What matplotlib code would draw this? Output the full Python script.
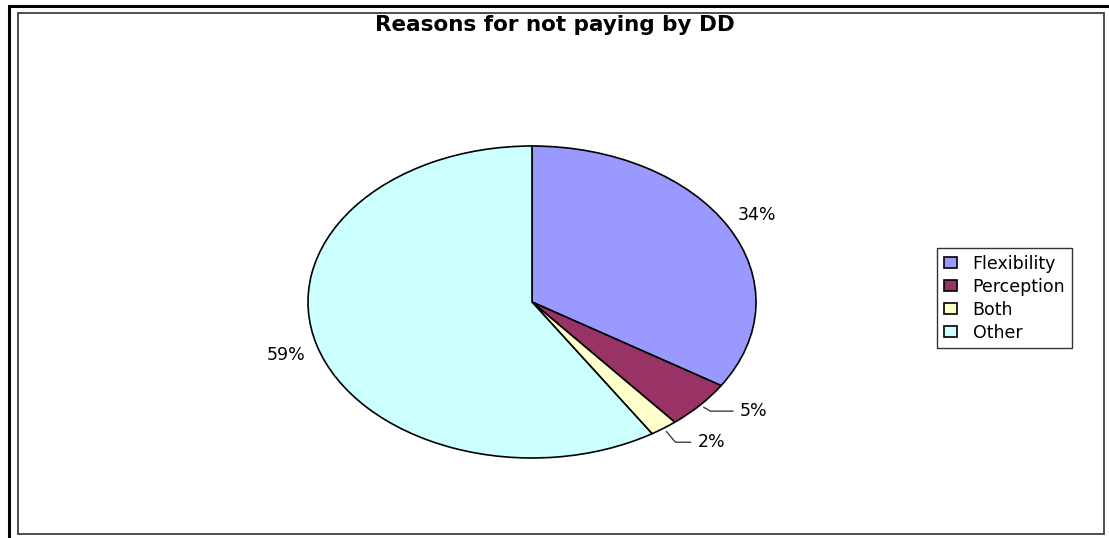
import matplotlib
matplotlib.use("Agg")
import matplotlib.pyplot as plt
from matplotlib.patches import Rectangle
import numpy as np

plt.rcParams['font.family'] = ['DejaVu Sans']

categories = ['Flexibility', 'Perception', 'Both', 'Other']
shares = [34, 5, 2, 59]
pct_labels = ['34%', '5%', '2%', '59%']
colours = ['#9999FF', '#993366', '#FFFFCC', '#CCFFFF']

W, H = 1109, 538
fig = plt.figure(figsize=(W / 100, H / 100), dpi=100)

# frame: thick black outer line, gray inner line
fig.add_artist(Rectangle((9 / W, -0.1), 1.2, 1 - 6 / H + 0.1, transform=fig.transFigure,
                         fill=False, edgecolor='black', linewidth=2.2))
fig.add_artist(Rectangle((17.5 / W, 1 - 533.5 / H), (1103.5 - 17.5) / W, (533.5 - 12.5) / H,
                         transform=fig.transFigure, fill=False, edgecolor='#404040', linewidth=1.3))

fig.text(555 / W, 1 - 25 / H, 'Reasons for not paying by DD', ha='center', va='center',
         fontsize=15.5, fontweight='bold')

# pie is an ellipse -> auto aspect inside a wide axes
ax = fig.add_axes([308 / W, 1 - 458 / H, 448 / W, 312 / H])
wedges, _ = ax.pie(shares, colors=colours, startangle=90, counterclock=False,
                   wedgeprops=dict(edgecolor='black', linewidth=1.2))
ax.set_aspect('auto')
ax.set_xlim(-1, 1)
ax.set_ylim(-1, 1)
ax.axis('off')

# label offsets in pixels from the wedge edge midpoint
offsets = [(29, 12), (40, -6), (34, -14), (-31, -9)]
leader_angles = [None, -30, -50, None]
for w, lab, off, ang in zip(wedges, pct_labels, offsets, leader_angles):
    mid = np.deg2rad((w.theta1 + w.theta2) / 2)
    xy = (np.cos(mid), np.sin(mid))
    if ang is not None:
        ax.annotate(lab, xy=xy, xytext=off, textcoords='offset pixels',
                    ha='left', va='center', fontsize=12.5,
                    arrowprops=dict(arrowstyle='-', color='#404040', lw=1.0,
                                    shrinkA=3, shrinkB=3,
                                    connectionstyle=f'angle,angleA=0,angleB={ang},rad=0'))
    else:
        ax.annotate(lab, xy=xy, xytext=off, textcoords='offset pixels',
                    ha='center', va='center', fontsize=12.5)

leg = fig.legend(wedges, categories, loc='upper left',
                 bbox_to_anchor=(937 / W, 1 - 248 / H), frameon=True, fancybox=False,
                 edgecolor='black', fontsize=12.5, handlelength=0.75, handleheight=0.6,
                 handletextpad=0.9, labelspacing=0.28, borderpad=0.4, borderaxespad=0)
leg.get_frame().set_linewidth(1.0)

fig.savefig('out.png', dpi=100, facecolor='white')
